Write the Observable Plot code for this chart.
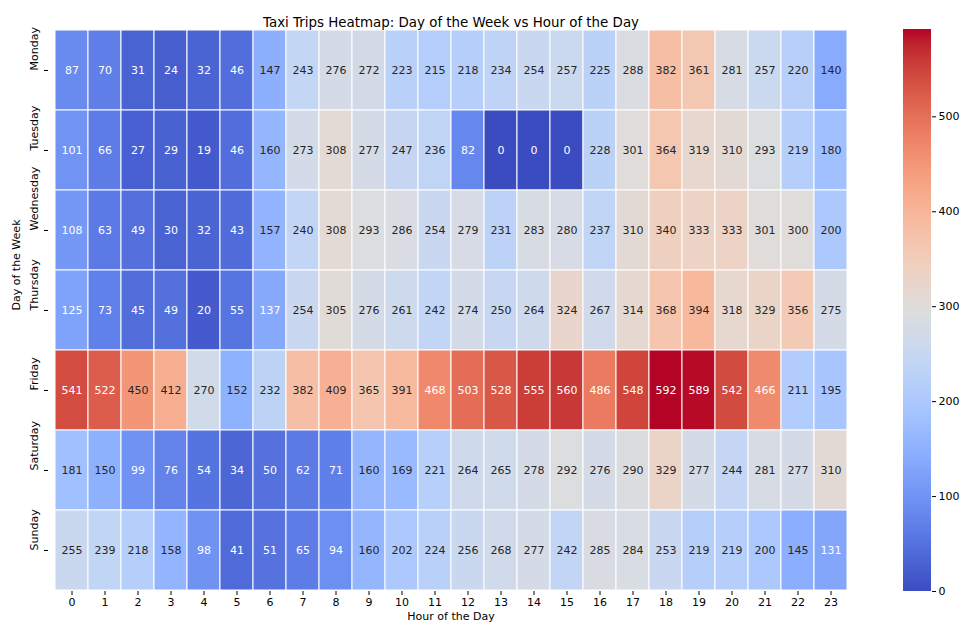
<!DOCTYPE html>
<html>
<head>
<meta charset="utf-8">
<script src="https://cdn.jsdelivr.net/npm/d3@7"></script>
<script src="https://cdn.jsdelivr.net/npm/@observablehq/plot@0.6"></script>
<style>
  html, body { margin: 0; padding: 0; background: #fff; }
  #wrap { position: relative; width: 962px; height: 631px; }
  #wrap svg { position: absolute; top: 0; }
</style>
</head>
<body>
<div id="wrap"></div>
<script>
const days = ["Monday", "Tuesday", "Wednesday", "Thursday", "Friday", "Saturday", "Sunday"];
const hours = [0,1,2,3,4,5,6,7,8,9,10,11,12,13,14,15,16,17,18,19,20,21,22,23];
const monday    = [87,70,31,24,32,46,147,243,276,272,223,215,218,234,254,257,225,288,382,361,281,257,220,140];
const tuesday   = [101,66,27,29,19,46,160,273,308,277,247,236,82,0,0,0,228,301,364,319,310,293,219,180];
const wednesday = [108,63,49,30,32,43,157,240,308,293,286,254,279,231,283,280,237,310,340,333,333,301,300,200];
const thursday  = [125,73,45,49,20,55,137,254,305,276,261,242,274,250,264,324,267,314,368,394,318,329,356,275];
const friday    = [541,522,450,412,270,152,232,382,409,365,391,468,503,528,555,560,486,548,592,589,542,466,211,195];
const saturday  = [181,150,99,76,54,34,50,62,71,160,169,221,264,265,278,292,276,290,329,277,244,281,277,310];
const sunday    = [255,239,218,158,98,41,51,65,94,160,202,224,256,268,277,242,285,284,253,219,219,200,145,131];
const colorbarTicks = [0, 100, 200, 300, 400, 500];
const vmin = 0, vmax = 592;

const rows = [monday, tuesday, wednesday, thursday, friday, saturday, sunday];
const data = days.flatMap((day, i) => rows[i].map((value, h) => ({day, hour: hours[h], value})));

// matplotlib "coolwarm" (Moreland) control colours
const coolwarmStops = [
  [59,76,192],[68,90,204],[77,104,215],[87,117,225],[98,130,234],[108,142,241],[119,154,247],
  [130,165,251],[141,176,254],[152,185,255],[163,194,255],[174,201,253],[184,208,249],[194,213,244],
  [204,217,238],[213,219,230],[221,221,221],[229,216,209],[236,211,197],[241,204,185],[245,196,173],
  [247,187,160],[247,177,148],[247,166,135],[244,154,123],[241,141,111],[236,127,99],[229,112,88],
  [222,96,77],[213,80,66],[203,62,56],[192,40,47],[180,4,38]
].map(c => `rgb(${c[0]},${c[1]},${c[2]})`);
const coolwarm = d3.piecewise(d3.interpolateRgb, coolwarmStops);

function isDark(v) {
  const c = d3.rgb(coolwarm((v - vmin) / (vmax - vmin)));
  const lin = x => { x /= 255; return x <= 0.03928 ? x / 12.92 : Math.pow((x + 0.055) / 1.055, 2.4); };
  const lum = 0.2126 * lin(c.r) + 0.7152 * lin(c.g) + 0.0722 * lin(c.b);
  return lum <= 0.408;
}

const colorScale = {type: "linear", domain: [vmin, vmax], interpolate: coolwarm};
const font = {fontFamily: "DejaVu Sans, sans-serif", fontSize: "11px", color: "#000", background: "transparent"};

const main = Plot.plot({
  width: 962, height: 631,
  marginLeft: 48, marginRight: 109, marginTop: 29, marginBottom: 40,
  x: {type: "band", domain: hours, padding: 0},
  y: {type: "band", domain: days, padding: 0},
  color: colorScale,
  style: font,
  marks: [
    Plot.cell(data, {x: "hour", y: "day", fill: "value", stroke: "white", strokeWidth: 1}),
    Plot.text(data.filter(d => isDark(d.value)), {x: "hour", y: "day", text: d => String(d.value), fill: "white", fontSize: 11}),
    Plot.text(data.filter(d => !isDark(d.value)), {x: "hour", y: "day", text: d => String(d.value), fill: "#262626", fontSize: 11}),
    Plot.axisX({tickSize: 4, tickPadding: 3, label: null, fontSize: 11}),
    Plot.axisY({tickSize: 4, tickFormat: () => "", label: null}),
    Plot.text(days, {y: d => d, text: d => d, frameAnchor: "left", dx: -14, rotate: -90, fill: "#000", fontSize: 11}),
    Plot.text(["Hour of the Day"], {frameAnchor: "bottom", dy: 28, fill: "#000", fontSize: 11}),
    Plot.text(["Day of the Week"], {frameAnchor: "left", dx: -32, rotate: -90, fill: "#000", fontSize: 11}),
    Plot.text(["Taxi Trips Heatmap: Day of the Week vs Hour of the Day"], {frameAnchor: "top", dy: -12, fill: "#000", fontSize: 13.4})
  ]
});

const bar = Plot.plot({
  width: 59, height: 631,
  marginLeft: 0, marginRight: 31, marginTop: 29, marginBottom: 40,
  x: {domain: [0, 1], axis: null},
  y: {domain: [vmin, vmax]},
  color: colorScale,
  style: font,
  marks: [
    Plot.rect(d3.range(vmin, vmax, 1), {x1: 0, x2: 1, y1: d => d, y2: d => Math.min(d + 1.5, vmax), fill: d => d + 0.5, shapeRendering: "crispEdges"}),
    Plot.axisY({anchor: "right", ticks: colorbarTicks, tickSize: 4, tickPadding: 3, label: null, fontSize: 11})
  ]
});
bar.style.left = "903px";

const wrap = document.getElementById("wrap");
wrap.appendChild(main);
wrap.appendChild(bar);
</script>
</body>
</html>
